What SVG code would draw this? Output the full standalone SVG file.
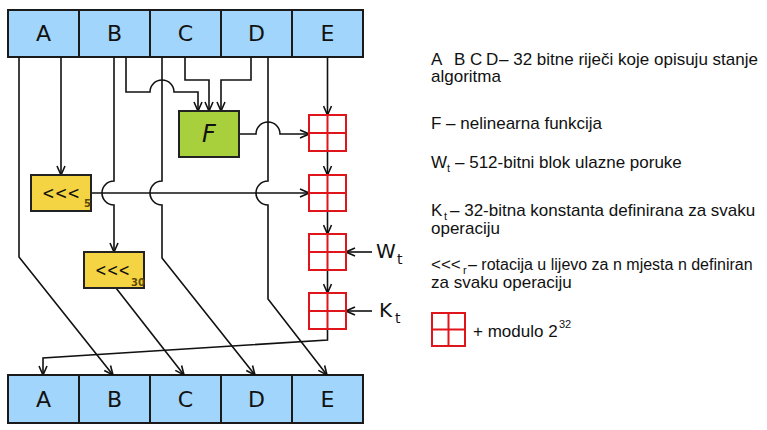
<svg xmlns="http://www.w3.org/2000/svg" width="767" height="430" viewBox="0 0 767 430">
<defs>
<marker id="arr" viewBox="0 0 10 10" refX="10" refY="5" markerWidth="10" markerHeight="10" markerUnits="userSpaceOnUse" orient="auto">
<path d="M1,1 L10,5 L1,9" fill="none" stroke="#111" stroke-width="1.6"/>
</marker>
<g id="addsym">
<rect x="0" y="0" width="37" height="36" fill="#fff" stroke="#e0141b" stroke-width="2"/>
<path d="M18.5,0 V36 M0,18 H37" stroke="#e0141b" stroke-width="2"/>
</g>
</defs>
<style>
.reg{fill:#a2d5fb;stroke:#1a1a1a;stroke-width:2}
.rl{font-family:"DejaVu Sans",sans-serif;font-size:22px;fill:#111;text-anchor:middle}
.ln{fill:none;stroke:#111;stroke-width:1.6}
.rot{fill:#f5d443;stroke:#222;stroke-width:2}
.rt{font-family:"DejaVu Sans",sans-serif;font-size:18px;fill:#111}
.sub{font-family:"DejaVu Sans",sans-serif;font-size:10px;font-weight:bold;fill:#5c4a00}
.lg{font-family:"Liberation Sans",Arial,sans-serif;font-size:17px;fill:#111}
.lgn{font-family:"Liberation Sans",Arial,sans-serif;font-size:16px;fill:#111}
.lgs{font-family:"Liberation Sans",Arial,sans-serif;font-size:11px;fill:#111}
</style>
<rect width="767" height="430" fill="#fff"/>

<g id="top">
<rect class="reg" x="8" y="10" width="71" height="47"/>
<rect class="reg" x="79" y="10" width="71" height="47"/>
<rect class="reg" x="150" y="10" width="71" height="47"/>
<rect class="reg" x="221" y="10" width="71" height="47"/>
<rect class="reg" x="292" y="10" width="71" height="47"/>
<text class="rl" x="43.5" y="41">A</text>
<text class="rl" x="114.5" y="41">B</text>
<text class="rl" x="185.5" y="41">C</text>
<text class="rl" x="256.5" y="41">D</text>
<text class="rl" x="327.5" y="41">E</text>
</g>

<g id="bottom">
<rect class="reg" x="8" y="375" width="71" height="48"/>
<rect class="reg" x="79" y="375" width="71" height="48"/>
<rect class="reg" x="150" y="375" width="71" height="48"/>
<rect class="reg" x="221" y="375" width="71" height="48"/>
<rect class="reg" x="292" y="375" width="71" height="48"/>
<text class="rl" x="43.5" y="407">A</text>
<text class="rl" x="114.5" y="407">B</text>
<text class="rl" x="185.5" y="407">C</text>
<text class="rl" x="256.5" y="407">D</text>
<text class="rl" x="327.5" y="407">E</text>
</g>

<g id="connectors">
<path class="ln" d="M19,57 V257 L113,375" marker-end="url(#arr)"/>
<path class="ln" d="M61,57 V175" marker-end="url(#arr)"/>
<path class="ln" d="M114,57 V181 A12,12 0 0 0 114,205 V252" marker-end="url(#arr)"/>
<path class="ln" d="M126,57 V92 H150 A12,12 0 0 1 174,92 H198 V111" marker-end="url(#arr)"/>
<path class="ln" d="M162,57 V181 A12,12 0 0 0 162,205 V258 L255,375" marker-end="url(#arr)"/>
<path class="ln" d="M185,57 V80 H209 V111" marker-end="url(#arr)"/>
<path class="ln" d="M251,57 V80 H221 V111" marker-end="url(#arr)"/>
<path class="ln" d="M268,57 V181 A12,12 0 0 0 268,205 V299 L327,375" marker-end="url(#arr)"/>
<path class="ln" d="M327.5,57 V115" marker-end="url(#arr)"/>
<path class="ln" d="M239,134 H256 A12,12 0 0 1 280,134 H309" marker-end="url(#arr)"/>
<path class="ln" d="M91,193 H309" marker-end="url(#arr)"/>
<path class="ln" d="M116,288 L184,375" marker-end="url(#arr)"/>
<path class="ln" d="M327.5,151 V175" marker-end="url(#arr)"/>
<path class="ln" d="M327.5,211 V234" marker-end="url(#arr)"/>
<path class="ln" d="M327.5,270 V293" marker-end="url(#arr)"/>
<path class="ln" d="M372,252 H346" marker-end="url(#arr)"/>
<path class="ln" d="M372,311 H346" marker-end="url(#arr)"/>
<path class="ln" d="M327.5,329 V340 L43,358 V375" marker-end="url(#arr)"/>
</g>

<g id="F">
<rect x="179" y="111" width="60" height="46" fill="#a8cf3c" stroke="#222" stroke-width="2"/>
<text x="209" y="142" font-family="DejaVu Sans,sans-serif" font-size="24" font-style="italic" fill="#111" text-anchor="middle">F</text>
</g>

<g id="rot5">
<rect class="rot" x="31" y="175" width="60" height="36"/>
<text class="rt" x="42" y="199" textLength="38" lengthAdjust="spacingAndGlyphs">&lt;&lt;&lt;</text>
<text class="sub" x="84" y="207">5</text>
</g>

<g id="rot30">
<rect class="rot" x="84" y="252" width="60" height="36"/>
<text class="rt" x="95" y="276" textLength="35" lengthAdjust="spacingAndGlyphs">&lt;&lt;&lt;</text>
<text class="sub" x="131" y="286">30</text>
</g>

<g id="add1"><use href="#addsym" x="309" y="115"/></g>
<g id="add2"><use href="#addsym" x="309" y="175"/></g>
<g id="add3"><use href="#addsym" x="309" y="234"/></g>
<g id="add4"><use href="#addsym" x="309" y="293"/></g>

<g id="Wt">
<text x="376" y="258" font-family="DejaVu Sans,sans-serif" font-size="20" fill="#111">W</text>
<text x="397" y="264" font-family="DejaVu Sans,sans-serif" font-size="14" fill="#111">t</text>
</g>
<g id="Kt">
<text x="379" y="317" font-family="DejaVu Sans,sans-serif" font-size="20" fill="#111">K</text>
<text x="395" y="323" font-family="DejaVu Sans,sans-serif" font-size="14" fill="#111">t</text>
</g>

<g id="legend">
<text class="lg" x="431" y="65">A</text>
<text class="lg" x="454" y="65">B</text>
<text class="lg" x="470" y="65">C</text>
<text class="lg" x="486" y="65">D</text>
<text class="lg" x="499" y="65">– 32 bitne riječi koje opisuju stanje</text>
<text class="lg" x="431" y="82">algoritma</text>
<text class="lg" x="431" y="129">F – nelinearna funkcija</text>
<text class="lg" x="431" y="168">W</text>
<text class="lgs" x="447" y="172">t</text>
<text class="lg" x="455" y="168">– 512-bitni blok ulazne poruke</text>
<text class="lg" x="431" y="216">K</text>
<text class="lgs" x="444" y="220">t</text>
<text class="lg" x="450" y="216">– 32-bitna konstanta definirana za svaku</text>
<text class="lg" x="431" y="234">operaciju</text>
<text class="lg" x="431" y="270">&lt;&lt;&lt;</text>
<text class="lgs" x="463" y="274">r</text>
<text class="lgn" x="468" y="270">– rotacija u lijevo za n mjesta  n definiran</text>
<text class="lg" x="431" y="288">za svaku operaciju</text>
<g id="legadd">
<rect x="432" y="313" width="33" height="33" fill="#fff" stroke="#e0141b" stroke-width="2"/>
<path d="M448.5,313 V346 M432,329.5 H465" stroke="#e0141b" stroke-width="2"/>
</g>
<text class="lg" x="473" y="337">+ modulo 2</text>
<text class="lgs" x="559" y="328">32</text>
</g>
</svg>
